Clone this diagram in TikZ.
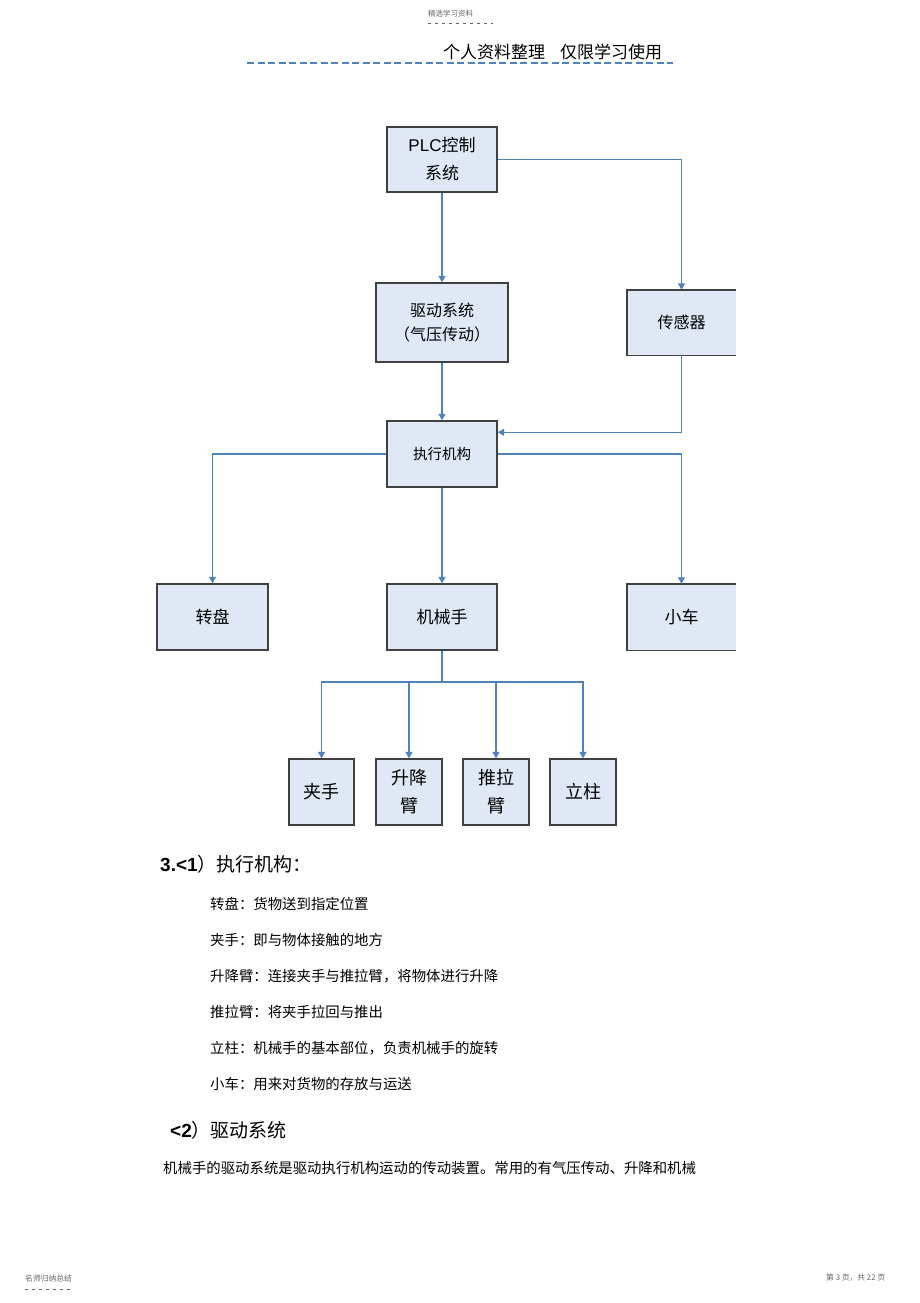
\documentclass[tikz,border=0pt]{standalone}
\usepackage{fontspec}
\setmainfont{Noto Sans CJK SC}
\newfontfamily\lat{Liberation Sans}
\usetikzlibrary{arrows.meta,calc}
\definecolor{boxfill}{RGB}{224,232,246}
\definecolor{boxline}{RGB}{64,64,64}
\definecolor{conncol}{RGB}{79,129,189}
\definecolor{graytxt}{RGB}{100,100,100}
\tikzset{
  box/.style={fill=boxfill,draw=boxline,line width=1.4pt,inner sep=0pt,align=center,font=\fontsize{17}{28}\selectfont},
  openbox/.style={fill=boxfill,draw=none,inner sep=0pt,align=center,font=\fontsize{16}{24}\selectfont},
  conn/.style={draw=conncol,line width=1.4pt,-{Triangle[width=7pt,length=6.5pt]}},
  plainconn/.style={draw=conncol,line width=1.4pt},
  txt/.style={anchor=west,inner sep=0pt},
}
\begin{document}
\begin{tikzpicture}[x=1pt,y=-1pt]
\useasboundingbox[fill=white] (0,0) rectangle (920,1303);
% header
\node[txt,text=graytxt,font=\fontsize{7.5}{9}\selectfont] (hd1) at (428,14) {精选学习资料};
\draw[graytxt,line width=0.5pt,dash pattern=on 3pt off 4pt] (428,23.5) -- (493,23.5);
\node[txt,font=\fontsize{17}{20}\selectfont] (hd2) at (443,52) {个人资料整理\hspace{15pt}仅限学习使用};
\draw[conncol,line width=1.2pt,dash pattern=on 7pt off 3.5pt] (247,63) -- (673,63);
% boxes
\node[box,minimum width=110,minimum height=65] (plc) at (442,159.5) {{\lat PLC}控制\\系统};
\node[box,minimum width=132,minimum height=79,font=\fontsize{16}{24}\selectfont] (drive) at (442,322.5) {驱动系统\\（气压传动）};
\node[openbox,minimum width=109,minimum height=65] (sensor) at (681.5,322.5) {传感器};
\draw[boxline,line width=1.4pt] (sensor.north east) -- (sensor.north west) -- (sensor.south west) -- (sensor.south east);
\node[box,minimum width=110,minimum height=66,font=\fontsize{14.5}{20}\selectfont] (exec) at (442,454) {执行机构};
\node[box,minimum width=111,minimum height=66] (turn) at (212.5,617) {转盘};
\node[box,minimum width=110,minimum height=66] (arm) at (442,617) {机械手};
\node[openbox,minimum width=109,minimum height=66,font=\fontsize{17}{24}\selectfont] (cart) at (681.5,617) {小车};
\draw[boxline,line width=1.4pt] (cart.north east) -- (cart.north west) -- (cart.south west) -- (cart.south east);
\node[box,minimum width=65,minimum height=66,font=\fontsize{18}{28}\selectfont] (clamp) at (321.5,792) {夹手};
\node[box,minimum width=66,minimum height=66,font=\fontsize{18}{28}\selectfont] (lift) at (409,792) {升降\\臂};
\node[box,minimum width=66,minimum height=66,font=\fontsize{18}{28}\selectfont] (push) at (496,792) {推拉\\臂};
\node[box,minimum width=66,minimum height=66,font=\fontsize{18}{28}\selectfont] (pillar) at (583,792) {立柱};
% connectors
\draw[conn] (plc.south) -- (drive.north);
\draw[conn] (plc.east) -| (sensor.north);
\draw[conn] (drive.south) -- (exec.north);
\draw[conn] (sensor.south) |- ([yshift=-12pt]exec.north east);
\draw[conn] (exec.west) -| (turn.north);
\draw[conn] (exec.east) -| (cart.north);
\draw[conn] (exec.south) -- (arm.north);
\coordinate (bus) at (442,682);
\draw[plainconn] (arm.south) -- (bus);
\draw[conn] (bus) -| (clamp.north);
\draw[conn] (bus) -| (lift.north);
\draw[conn] (bus) -| (push.north);
\draw[conn] (bus) -| (pillar.north);
% text below
\node[txt,font=\fontsize{19}{22}\selectfont] (h1) at (160,864) {{\lat\bfseries 3.<1}）执行机构：};
\begin{scope}[every node/.style={txt,font=\fontsize{14.4}{17}\selectfont}]
\node (l1) at (210,904) {转盘：货物送到指定位置};
\node (l2) at (210,940) {夹手：即与物体接触的地方};
\node (l3) at (210,976) {升降臂：连接夹手与推拉臂，将物体进行升降};
\node (l4) at (210,1012) {推拉臂：将夹手拉回与推出};
\node (l5) at (210,1048) {立柱：机械手的基本部位，负责机械手的旋转};
\node (l6) at (210,1084) {小车：用来对货物的存放与运送};
\end{scope}
\node[txt,font=\fontsize{19}{22}\selectfont] (h2) at (170,1130) {{\lat\bfseries <2}）驱动系统};
\node[txt,font=\fontsize{14.4}{18}\selectfont] (body) at (163,1168) {机械手的驱动系统是驱动执行机构运动的传动装置。常用的有气压传动、升降和机械};
% footer
\node[txt,text=graytxt,font=\fontsize{7.8}{9}\selectfont] (ft1) at (25,1279) {名师归纳总结};
\draw[graytxt,line width=0.5pt,dash pattern=on 3pt off 4pt] (25,1289) -- (73,1289);
\node[txt,text=graytxt,font=\fontsize{7.8}{9}\selectfont] (ft2) at (826,1278) {第 3 页，共 22 页};
\end{tikzpicture}
\end{document}
